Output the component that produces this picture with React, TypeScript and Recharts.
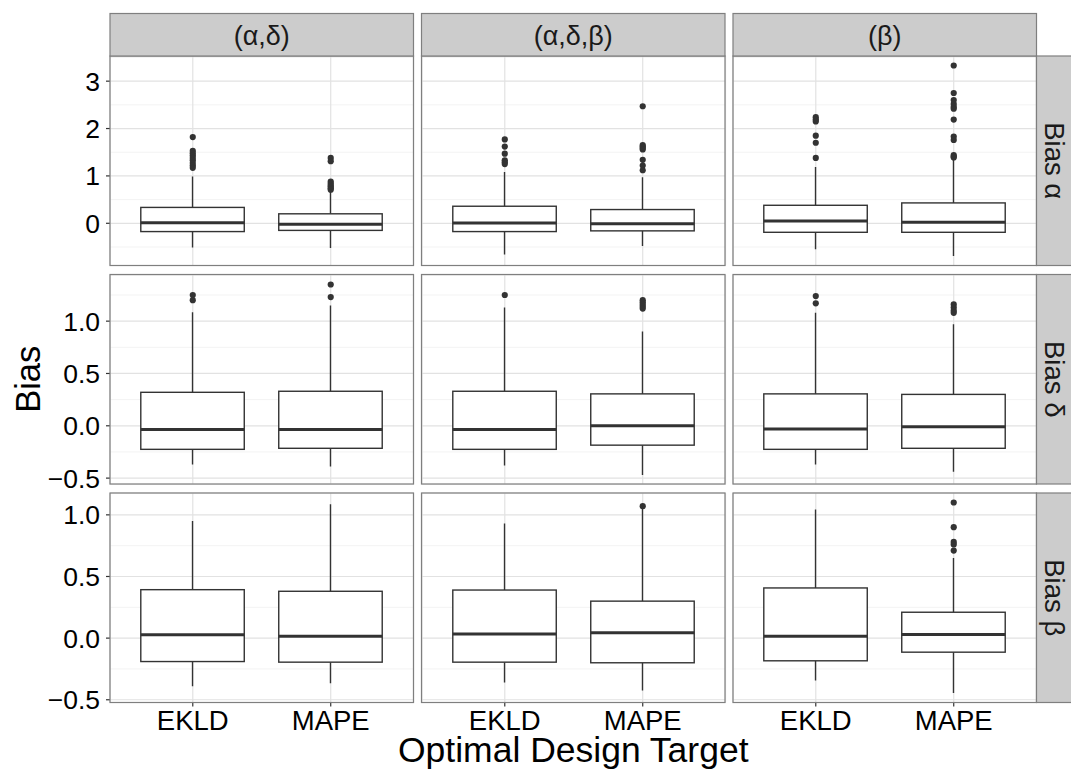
import React from 'react';
import { ComposedChart, Bar, Scatter, XAxis, YAxis, CartesianGrid } from 'recharts';

// ---- data -------------------------------------------------------------
const targets = ['EKLD', 'MAPE'];
const designs = ['(α,δ)', '(α,δ,β)', '(β)'];
const parameters = ['Bias α', 'Bias δ', 'Bias β'];

// five-number summaries [lower whisker, Q1, median, Q3, upper whisker]
// indexed by design, then by target
const biasAlphaStats = [
  [[-0.51, -0.175, 0.01, 0.335, 0.99], [-0.52, -0.15, -0.02, 0.2, 0.68]],
  [[-0.66, -0.175, 0.006, 0.36, 1.08], [-0.48, -0.16, -0.01, 0.29, 0.97]],
  [[-0.55, -0.19, 0.05, 0.38, 1.19], [-0.69, -0.19, 0.02, 0.43, 1.34]],
];
const biasAlphaOutliers = [
  [[1.82, 1.53, 1.48, 1.43, 1.38, 1.33, 1.27, 1.22, 1.17], [1.38, 1.31, 0.88, 0.84, 0.8, 0.77, 0.74, 0.71]],
  [[1.77, 1.62, 1.47, 1.33, 1.29, 1.25], [2.47, 1.65, 1.62, 1.59, 1.56, 1.34, 1.22, 1.12]],
  [[2.24, 2.19, 2.15, 1.85, 1.7, 1.38], [3.33, 2.75, 2.6, 2.52, 2.46, 2.42, 2.19, 1.83, 1.76, 1.44, 1.41, 1.39]],
];

const biasDeltaStats = [
  [[-0.37, -0.225, -0.035, 0.32, 1.085], [-0.39, -0.215, -0.035, 0.33, 1.15]],
  [[-0.38, -0.225, -0.035, 0.33, 1.13], [-0.47, -0.185, 0.0, 0.305, 0.9]],
  [[-0.37, -0.225, -0.03, 0.305, 1.08], [-0.44, -0.215, -0.01, 0.3, 0.97]],
];
const biasDeltaOutliers = [
  [[1.25, 1.2], [1.35, 1.23]],
  [[1.25], [1.2, 1.18, 1.16, 1.14, 1.12]],
  [[1.24, 1.17], [1.16, 1.13, 1.1, 1.08]],
];

const biasBetaStats = [
  [[-0.39, -0.19, 0.027, 0.393, 0.95], [-0.366, -0.195, 0.016, 0.38, 1.087]],
  [[-0.36, -0.195, 0.033, 0.39, 0.93], [-0.425, -0.2, 0.044, 0.3, 1.05]],
  [[-0.344, -0.184, 0.016, 0.407, 1.044], [-0.445, -0.114, 0.03, 0.21, 0.65]],
];
const biasBetaOutliers = [
  [[], []],
  [[], [1.07]],
  [[], [1.1, 0.9, 0.78, 0.76, 0.71]],
];

const biasAlphaTicks = [0, 1, 2, 3];
const biasAlphaMinor = [-0.5, 0.5, 1.5, 2.5, 3.5];
const biasDeltaTicks = [-0.5, 0, 0.5, 1];
const biasDeltaMinor = [-0.25, 0.25, 0.75, 1.25];
const biasBetaTicks = [-0.5, 0, 0.5, 1];
const biasBetaMinor = [-0.25, 0.25, 0.75, 1.25];

// ---- layout & style ---------------------------------------------------
const FONT = '"Liberation Sans", Arial, Helvetica, sans-serif';
const INK = '#333333';
const FRAME = '#7F7F7F';
const STRIP_FILL = '#CCCCCC';

const PANEL_LEFT = [110, 421.5, 733];
const PANEL_TOP = [56, 274.5, 493];
const PANEL_W = 303.5;
const PANEL_H = 209.5;
const STRIP_TOP = 13.5;
const Y_AXIS_W = 110;
const X_AXIS_H = 48;

const rows = [
  { stats: biasAlphaStats, outliers: biasAlphaOutliers, ticks: biasAlphaTicks, minor: biasAlphaMinor, digits: 0 },
  { stats: biasDeltaStats, outliers: biasDeltaOutliers, ticks: biasDeltaTicks, minor: biasDeltaMinor, digits: 1 },
  { stats: biasBetaStats, outliers: biasBetaOutliers, ticks: biasBetaTicks, minor: biasBetaMinor, digits: 1 },
];

// free y scale per row: data range widened by 5% on each side
function rowDomain(stats: number[][][], outliers: number[][][]): [number, number] {
  const vals = [...stats.flat(2), ...outliers.flat(2)];
  const lo = Math.min(...vals);
  const hi = Math.max(...vals);
  const pad = (hi - lo) * 0.05;
  return [lo - pad, hi + pad];
}

function fmt(v: number, digits: number) {
  const s = Math.abs(v).toFixed(digits);
  return v < 0 ? '\u2212' + s : s;
}

// Box drawn inside the whisker-to-whisker range bar
function BoxShape(props: any) {
  const { x, y, width, height, payload } = props;
  if (!payload) return null;
  const { lo, q1, med, q3, hi } = payload;
  const top = Math.min(y, y + height);
  const bottom = Math.max(y, y + height);
  const py = (v: number) => top + ((bottom - top) * (hi - v)) / (hi - lo);
  const cx = x + width / 2;
  return (
    <g>
      <line x1={cx} x2={cx} y1={py(hi)} y2={py(q3)} stroke={INK} strokeWidth={1.4} />
      <line x1={cx} x2={cx} y1={py(q1)} y2={py(lo)} stroke={INK} strokeWidth={1.4} />
      <rect x={x} y={py(q3)} width={width} height={py(q1) - py(q3)} fill="#FFFFFF" stroke={INK} strokeWidth={1.4} />
      <line x1={x} x2={x + width} y1={py(med)} y2={py(med)} stroke={INK} strokeWidth={3} />
    </g>
  );
}

function OutlierDot(props: any) {
  const { cx, cy } = props;
  if (cx == null || cy == null) return null;
  return <circle cx={cx} cy={cy} r={3.1} fill={INK} />;
}

function Panel({ row, col }: { row: number; col: number }) {
  const cfg = rows[row];
  const showY = col === 0;
  const showX = row === 2;
  const left = PANEL_LEFT[col] - (showY ? Y_AXIS_W : 0);
  const top = PANEL_TOP[row];
  const width = PANEL_W + (showY ? Y_AXIS_W : 0);
  const height = PANEL_H + (showX ? X_AXIS_H : 0);
  const domain = rowDomain(cfg.stats, cfg.outliers);

  const data = targets.map((t, i) => {
    const [lo, q1, med, q3, hi] = cfg.stats[col][i];
    return { target: t, lo, q1, med, q3, hi, range: [lo, hi] };
  });
  const points = targets.flatMap((t, i) => cfg.outliers[col][i].map((v) => ({ target: t, value: v })));

  // discrete scale: categories at 1 and 2 on [0.4, 2.6], boxes 0.75 wide
  const pad = PANEL_W * (0.6 / 2.2 - 0.25) * 2;
  const barSize = (PANEL_W * 0.75) / 2.2;

  return (
    <div style={{ position: 'absolute', left, top, width, height }}>
      <ComposedChart width={width} height={height} data={data} margin={{ top: 0, right: 0, bottom: 0, left: 0 }}>
        <CartesianGrid vertical={false} horizontalValues={cfg.minor} stroke="#F3F3F3" strokeWidth={1} />
        <CartesianGrid stroke="#E2E2E2" strokeWidth={1.2} />
        <XAxis
          dataKey="target"
          type="category"
          allowDuplicatedCategory={false}
          padding={{ left: pad, right: pad }}
          hide={!showX}
          height={X_AXIS_H}
          axisLine={false}
          tickLine={{ stroke: INK, strokeWidth: 1.2 }}
          tickSize={4}
          tickMargin={4}
          interval={0}
          tick={{ fill: '#000000', fontSize: 27.5, fontFamily: FONT }}
        />
        <YAxis
          type="number"
          domain={domain}
          allowDataOverflow
          ticks={cfg.ticks}
          interval={0}
          hide={!showY}
          width={Y_AXIS_W}
          axisLine={false}
          tickLine={{ stroke: INK, strokeWidth: 1.2 }}
          tickSize={4}
          tickMargin={6}
          tick={{ fill: '#000000', fontSize: 26.5, fontFamily: FONT }}
          tickFormatter={(v: number) => fmt(v, cfg.digits)}
        />
        <Bar dataKey="range" barSize={barSize} shape={BoxShape} isAnimationActive={false} />
        <Scatter data={points} dataKey="value" shape={OutlierDot} isAnimationActive={false} />
      </ComposedChart>
    </div>
  );
}

export default function App() {
  const rightEdge = PANEL_LEFT[2] + PANEL_W;
  const plotMidX = (PANEL_LEFT[0] + rightEdge) / 2;
  const plotMidY = (PANEL_TOP[0] + PANEL_TOP[2] + PANEL_H) / 2;
  return (
    <div
      style={{
        position: 'absolute',
        left: 0,
        top: 0,
        width: 1071,
        height: 771,
        overflow: 'hidden',
        background: '#FFFFFF',
        fontFamily: FONT,
      }}
    >
      <style>{'.recharts-surface { overflow: visible; }'}</style>
      {rows.map((_, r) => designs.map((__, c) => <Panel key={`${r}-${c}`} row={r} col={c} />))}
      <svg
        width={1071}
        height={771}
        style={{ position: 'absolute', left: 0, top: 0, pointerEvents: 'none' }}
      >
        {/* panel frames */}
        {rows.map((_, r) =>
          designs.map((__, c) => (
            <rect
              key={`f-${r}-${c}`}
              x={PANEL_LEFT[c]}
              y={PANEL_TOP[r]}
              width={PANEL_W}
              height={PANEL_H}
              fill="none"
              stroke={FRAME}
              strokeWidth={1.2}
            />
          ))
        )}
        {/* column strips */}
        {designs.map((d, c) => (
          <g key={`cs-${c}`}>
            <rect
              x={PANEL_LEFT[c]}
              y={STRIP_TOP}
              width={PANEL_W}
              height={PANEL_TOP[0] - STRIP_TOP}
              fill={STRIP_FILL}
              stroke={FRAME}
              strokeWidth={1.2}
            />
            <text
              x={PANEL_LEFT[c] + PANEL_W / 2}
              y={(STRIP_TOP + PANEL_TOP[0]) / 2 + 1}
              textAnchor="middle"
              dominantBaseline="central"
              fontSize={27}
              fontFamily={FONT}
              fill="#1A1A1A"
            >
              {d}
            </text>
          </g>
        ))}
        {/* row strips */}
        {parameters.map((p, r) => {
          const cy = PANEL_TOP[r] + PANEL_H / 2;
          const cx = rightEdge + 18;
          return (
            <g key={`rs-${r}`}>
              <rect
                x={rightEdge}
                y={PANEL_TOP[r]}
                width={44}
                height={PANEL_H}
                fill={STRIP_FILL}
                stroke={FRAME}
                strokeWidth={1.2}
              />
              <text
                x={cx}
                y={cy}
                transform={`rotate(90, ${cx}, ${cy})`}
                textAnchor="middle"
                dominantBaseline="central"
                fontSize={27.5}
                fontFamily={FONT}
                fill="#1A1A1A"
              >
                {p}
              </text>
            </g>
          );
        })}
        {/* axis titles */}
        <text
          x={plotMidX}
          y={762}
          textAnchor="middle"
          fontSize={35.5}
          fontFamily={FONT}
          fill="#000000"
        >
          Optimal Design Target
        </text>
        <text
          x={28}
          y={plotMidY}
          transform={`rotate(-90, 28, ${plotMidY})`}
          textAnchor="middle"
          dominantBaseline="central"
          fontSize={34.5}
          fontFamily={FONT}
          fill="#000000"
        >
          Bias
        </text>
      </svg>
    </div>
  );
}
